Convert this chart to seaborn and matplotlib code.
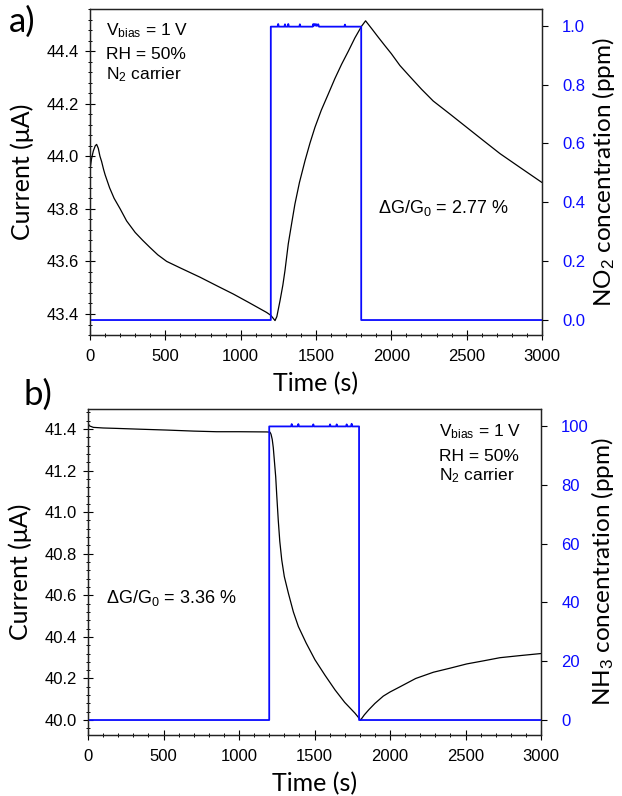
import pandas as pd
import seaborn as sns
import matplotlib.pyplot as plt
from matplotlib.ticker import MultipleLocator

# ---- panel a) NO2 response ----
a_time = [0, 10, 22, 35, 44, 55, 66, 77, 90, 100, 130, 160, 200, 243, 300, 350, 398,
          450, 509, 600, 730, 850, 951, 1050, 1172, 1200, 1228, 1240,
          1261, 1280, 1294, 1316, 1340, 1360, 1390, 1427, 1460, 1493, 1535, 1581,
          1625, 1670, 1715, 1758, 1803, 1829, 1870, 1910, 1958, 2000, 2057, 2120,
          2200, 2278, 2390, 2500, 2610, 2721, 2860, 3000]
a_current = [43.95, 43.99, 44.02, 44.04, 44.045, 44.03, 44.0, 43.98, 43.95, 43.93,
             43.88, 43.84, 43.80, 43.754, 43.71, 43.68, 43.653,
             43.625, 43.60, 43.575, 43.54, 43.505, 43.476, 43.445, 43.406, 43.395,
             43.375, 43.39, 43.45, 43.51, 43.565, 43.667, 43.75, 43.818, 43.90,
             43.983, 44.05, 44.11, 44.175, 44.236, 44.295, 44.35, 44.40, 44.45,
             44.495, 44.515, 44.485, 44.455, 44.42, 44.39, 44.345, 44.305, 44.255,
             44.21, 44.16, 44.11, 44.06, 44.01, 43.955, 43.90]
a_gas_time = [0, 1200, 1200, 1245, 1249, 1253, 1290, 1294, 1298, 1312, 1316, 1320,
              1389, 1393, 1397, 1478, 1482, 1486, 1493, 1500, 1504, 1508, 1515, 1520,
              1688, 1692, 1696, 1800, 1800, 3000]
a_gas = [0, 0, 0.997, 0.997, 1.006, 0.997, 0.997, 1.005, 0.997, 0.997, 1.006, 0.997,
         0.997, 1.005, 0.997, 0.997, 1.006, 1.0, 1.006, 1.0, 1.005, 1.0, 1.005, 0.997,
         0.997, 1.004, 0.997, 0.997, 0, 0]

# ---- panel b) NH3 response ----
b_time = [0, 10, 35, 100, 190, 350, 521, 700, 852, 1000, 1183, 1205, 1212, 1220, 1227,
          1235, 1243, 1250, 1260, 1270, 1283, 1300, 1327, 1360, 1393, 1445, 1503,
          1570, 1636, 1700, 1768, 1805, 1830, 1860, 1900, 1955, 2000, 2066, 2170,
          2287, 2400, 2508, 2620, 2728, 2860, 3000]
b_current = [41.427, 41.415, 41.408, 41.405, 41.403, 41.399, 41.395, 41.39, 41.387,
             41.387, 41.386, 41.385, 41.375, 41.35, 41.31, 41.24, 41.17, 41.08,
             40.96, 40.86, 40.77, 40.69, 40.61, 40.52, 40.45, 40.37, 40.29, 40.215,
             40.145, 40.085, 40.033, 40.0, 40.025, 40.05, 40.08, 40.115, 40.135,
             40.16, 40.20, 40.23, 40.25, 40.27, 40.285, 40.30, 40.31, 40.32]
b_gas_time = [0, 1200, 1200, 1345, 1349, 1353, 1389, 1393, 1397, 1488, 1492, 1496,
              1599, 1603, 1607, 1643, 1647, 1651, 1709, 1713, 1717, 1742, 1746, 1750,
              1795, 1795, 3000]
b_gas = [0, 0, 99.8, 99.8, 100.6, 99.8, 99.8, 100.6, 99.8, 99.8, 100.5, 99.8,
         99.8, 100.5, 99.8, 99.8, 100.5, 99.8, 99.8, 100.5, 99.8, 99.8, 100.7, 99.8,
         99.8, 0, 0]

x_ticks = [0, 500, 1000, 1500, 2000, 2500, 3000]

sns.set_style("ticks")
plt.rcParams["font.family"] = ["Liberation Sans", "DejaVu Sans"]
plt.rcParams["mathtext.fontset"] = "custom"
plt.rcParams["mathtext.rm"] = "Liberation Sans"
plt.rcParams["mathtext.it"] = "Liberation Sans:italic"
plt.rcParams["text.color"] = "black"
plt.rcParams["axes.labelcolor"] = "black"
plt.rcParams["xtick.color"] = "black"
plt.rcParams["ytick.color"] = "black"

BLUE = "#0a0aff"
LABEL_FONT = ["Lato", "DejaVu Sans"]


def panel(ax, time, current, gas_time, gas, ylim, yticks, ylim2, yticks2, gas_label):
    df = pd.DataFrame({"t": time, "i": current})
    sns.lineplot(data=df, x="t", y="i", ax=ax, color="black", linewidth=0.9,
                 estimator=None, sort=False)
    axr = ax.twinx()
    gdf = pd.DataFrame({"t": gas_time, "c": gas})
    sns.lineplot(data=gdf, x="t", y="c", ax=axr, color=BLUE, linewidth=1.3,
                 estimator=None, sort=False)

    ax.set_xlim(0, 3000)
    ax.set_ylim(*ylim)
    ax.set_xticks(x_ticks)
    ax.set_yticks(yticks)
    ax.set_yticklabels([f"{v:.1f}" for v in yticks])
    ax.xaxis.set_minor_locator(MultipleLocator(100))
    ax.yaxis.set_minor_locator(MultipleLocator(0.04))
    ax.tick_params(axis="both", which="major", direction="inout", length=6.5,
                   width=0.8, labelsize=12)
    ax.tick_params(axis="both", which="minor", direction="inout", length=3, width=0.7)
    ax.tick_params(axis="y", which="major", pad=5)
    ax.tick_params(axis="x", which="major", pad=7)

    axr.set_ylim(*ylim2)
    axr.set_yticks(yticks2)
    axr.tick_params(axis="y", direction="out", length=4.5, width=0.8,
                    labelsize=12, labelcolor=BLUE, pad=10)

    for a in (ax, axr):
        for s in a.spines.values():
            s.set_visible(True)
            s.set_linewidth(0.9)
            s.set_color("#222222")

    ax.set_xlabel("Time (s)", fontsize=18, family=LABEL_FONT)
    ax.xaxis.set_label_coords(0.5, -0.112)
    ax.set_ylabel("Current (μA)", fontsize=18, family=LABEL_FONT)
    ax.yaxis.set_label_coords(-0.124, 0.5)
    axr.set_ylabel(gas_label, fontsize=17.5, family=LABEL_FONT)
    axr.yaxis.set_label_coords(1.106, 0.5)
    return axr


fig = plt.figure(figsize=(6.22, 7.96), dpi=100)
ax_a = fig.add_axes([0.1447, 0.5791, 0.7267, 0.4096])
ax_b = fig.add_axes([0.1415, 0.0766, 0.7283, 0.4095])

panel(ax_a, a_time, a_current, a_gas_time, a_gas,
      (43.32, 44.56), [43.4, 43.6, 43.8, 44.0, 44.2, 44.4],
      (-0.051, 1.057), [0.0, 0.2, 0.4, 0.6, 0.8, 1.0],
      "NO$_2$ concentration (ppm)")
panel(ax_b, b_time, b_current, b_gas_time, b_gas,
      (39.928, 41.496), [40.0, 40.2, 40.4, 40.6, 40.8, 41.0, 41.2, 41.4],
      (-5.1, 105.7), [0, 20, 40, 60, 80, 100],
      "NH$_3$ concentration (ppm)")

note = dict(fontsize=12.5, va="baseline", ha="left")
ax_a.text(0.035, 0.920, "V$_{\\mathrm{bias}}$ = 1 V", transform=ax_a.transAxes, **note)
ax_a.text(0.035, 0.846, "RH = 50%", transform=ax_a.transAxes, **note)
ax_a.text(0.035, 0.784, "N$_2$ carrier", transform=ax_a.transAxes, **note)
ax_a.text(0.638, 0.373, "ΔG/G$_0$ = 2.77 %", transform=ax_a.transAxes,
          fontsize=13, va="baseline", ha="left")

ax_b.text(0.775, 0.915, "V$_{\\mathrm{bias}}$ = 1 V", transform=ax_b.transAxes, **note)
ax_b.text(0.775, 0.841, "RH = 50%", transform=ax_b.transAxes, **note)
ax_b.text(0.775, 0.780, "N$_2$ carrier", transform=ax_b.transAxes, **note)
ax_b.text(0.040, 0.404, "ΔG/G$_0$ = 3.36 %", transform=ax_b.transAxes,
          fontsize=13, va="baseline", ha="left")

fig.text(0.015, 0.993, "a)", fontsize=25, va="top", ha="left", family=LABEL_FONT)
fig.text(0.038, 0.524, "b)", fontsize=25, va="top", ha="left", family=LABEL_FONT)

fig.savefig("out.png", dpi=100)
